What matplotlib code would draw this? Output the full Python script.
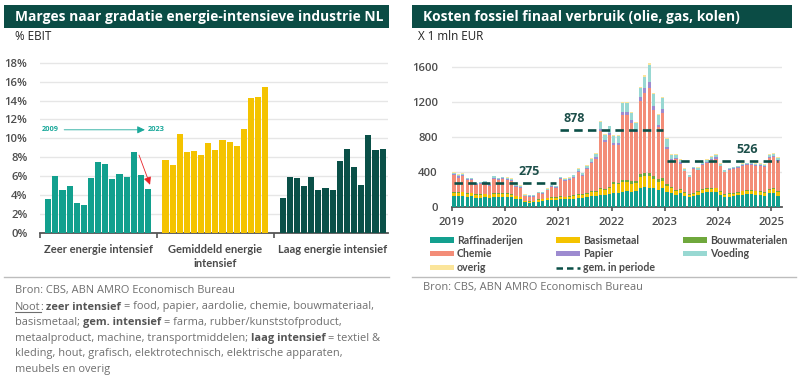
import matplotlib
matplotlib.use("Agg")
import matplotlib.pyplot as plt
from matplotlib.patches import Rectangle
from matplotlib.lines import Line2D

W, H = 801, 376
FONT = "Open Sans"
FONT2 = "Lato"
plt.rcParams['font.family'] = [FONT, 'DejaVu Sans']

# ---------------- data: left chart (% EBIT, 2009-2023) ----------------
years_left = list(range(2009, 2024))
group_labels = ["Zeer energie intensief", "Gemiddeld energie\nintensief", "Laag energie intensief"]
zeer = [3.6, 6.0, 4.5, 5.0, 3.1, 2.9, 5.8, 7.45, 7.3, 5.7, 6.25, 5.85, 8.5, 6.1, 4.6]
gemiddeld = [7.7, 7.2, 10.45, 8.6, 8.7, 8.2, 9.5, 8.8, 9.8, 9.6, 9.2, 11.0, 14.25, 14.35, 15.4]
laag = [3.7, 5.95, 5.8, 4.95, 5.95, 4.5, 4.75, 4.5, 7.55, 8.9, 7.0, 5.1, 10.3, 8.8, 8.9]
left_yticks = [0, 2, 4, 6, 8, 10, 12, 14, 16, 18]

# ---------------- data: right chart (x 1 mln EUR, monthly 2019-01 .. 2025-02) ----------------
raffinaderijen = [125, 125, 130, 120, 125, 110, 110, 115, 105, 120, 115, 120,
                  120, 115, 95, 90, 55, 50, 55, 65, 70, 80, 80, 80,
                  95, 90, 95, 100, 110, 110, 120, 130, 130, 145, 140, 150,
                  165, 160, 175, 180, 175, 185, 220, 230, 225, 215, 200, 215,
                  178, 165, 135, 160, 130, 115, 125, 140, 160, 170, 170, 175,
                  140, 115, 118, 125, 135, 145, 150, 150, 145, 140, 130, 165,
                  165, 130]
basismetaal = [40, 40, 40, 35, 35, 35, 30, 35, 30, 35, 35, 35,
               35, 30, 30, 25, 15, 15, 15, 20, 20, 25, 25, 25,
               25, 25, 25, 30, 30, 35, 35, 40, 45, 60, 55, 65,
               100, 100, 110, 105, 95, 90, 120, 125, 130, 110, 90, 85,
               70, 55, 50, 40, 35, 30, 30, 35, 35, 40, 40, 40,
               35, 30, 30, 30, 30, 35, 35, 35, 35, 35, 35, 35,
               40, 40]
bouwmaterialen = [8, 8, 8, 8, 8, 7, 7, 7, 7, 8, 8, 8,
                  8, 8, 7, 7, 5, 5, 5, 5, 6, 6, 7, 7,
                  7, 7, 8, 8, 8, 8, 9, 10, 12, 15, 15, 18,
                  20, 20, 25, 25, 25, 25, 35, 40, 40, 35, 30, 30,
                  20, 15, 12, 12, 10, 10, 10, 10, 10, 10, 10, 10,
                  10, 10, 10, 10, 10, 10, 10, 10, 10, 10, 10, 10,
                  10, 10]
chemie = [189, 166, 176, 144, 139, 100, 117, 118, 103, 163, 149, 156,
          148, 147, 102, 103, 54, 51, 46, 68, 60, 81, 117, 106,
          194, 180, 185, 201, 259, 205, 274, 327, 368, 647, 532, 592,
          422, 427, 743, 743, 666, 557, 835, 910, 967, 748, 591, 748,
          397, 295, 353, 286, 233, 185, 269, 235, 279, 283, 316, 330,
          280, 241, 265, 269, 271, 280, 283, 283, 280, 285, 284, 350,
          356, 350]
papier = [12, 12, 12, 10, 10, 8, 8, 8, 8, 10, 10, 10,
          10, 10, 8, 8, 5, 5, 5, 6, 6, 7, 8, 8,
          8, 8, 8, 9, 10, 10, 12, 14, 16, 25, 22, 25,
          25, 25, 35, 35, 30, 25, 40, 50, 60, 40, 30, 35,
          20, 15, 12, 12, 10, 8, 8, 10, 10, 12, 12, 12,
          10, 8, 8, 8, 8, 10, 10, 10, 10, 10, 10, 12,
          12, 12]
voeding = [18, 18, 18, 15, 15, 15, 15, 15, 15, 15, 15, 15,
           15, 15, 15, 12, 10, 10, 10, 10, 12, 12, 12, 12,
           15, 15, 15, 15, 20, 20, 25, 30, 35, 80, 60, 70,
           80, 80, 95, 95, 85, 80, 110, 130, 200, 140, 110, 130,
           90, 50, 35, 30, 20, 15, 15, 20, 20, 25, 30, 30,
           20, 15, 15, 15, 15, 15, 15, 15, 15, 15, 15, 25,
           25, 20]
overig = [6, 6, 6, 5, 5, 5, 5, 5, 5, 5, 5, 5,
          5, 5, 5, 5, 4, 4, 4, 4, 4, 5, 5, 5,
          5, 5, 5, 5, 6, 6, 6, 6, 8, 10, 10, 10,
          10, 10, 12, 12, 12, 10, 12, 15, 15, 12, 10, 12,
          10, 8, 6, 6, 5, 5, 5, 5, 5, 6, 6, 6,
          5, 5, 5, 5, 5, 5, 5, 5, 5, 5, 5, 6,
          6, 6]
year_labels = ["2019", "2020", "2021", "2022", "2023", "2024", "2025"]
right_yticks = [0, 400, 800, 1200, 1600]
period_avg = [275, 878, 526]
period_first = ["2019-01", "2021-01", "2023-01"]
period_last = ["2020-12", "2022-12", "2025-02"]

months = [f"{y}-{m:02d}" for y in range(2019, 2026) for m in range(1, 13)][:len(chemie)]

# ---------------- style ----------------
C_TEAL = "#12a08e"
C_YEL = "#f4c300"
C_DARK = "#0a5048"
C_TITLE = "#0b4c45"
C_TICK = "#4d4d4d"
C_GRID = "#e6e6e6"
C_SRC = "#6e6e6e"

series = [
    ("Raffinaderijen", raffinaderijen, "#13a08f"),
    ("Basismetaal", basismetaal, "#f4c300"),
    ("Bouwmaterialen", bouwmaterialen, "#6fa83c"),
    ("Chemie", chemie, "#f38d78"),
    ("Papier", papier, "#9d8bd0"),
    ("Voeding", voeding, "#98d8d2"),
    ("overig", overig, "#fbe59b"),
]

fig = plt.figure(figsize=(W / 100, H / 100), dpi=100)


def fx(x):
    return x / W


def fy(y):
    return 1 - y / H


def px_axes(l, t, r, b):
    return fig.add_axes([fx(l), fy(b), (r - l) / W, (b - t) / H])


# title bars
for (l, r, txt, tx) in [(4, 389, "Marges naar gradatie energie-intensieve industrie NL", 15),
                        (412, 792, "Kosten fossiel finaal verbruik (olie, gas, kolen)", 423)]:
    fig.patches.append(Rectangle((fx(l), fy(28)), (r - l) / W, 23 / H, transform=fig.transFigure,
                                 facecolor=C_TITLE, edgecolor="none"))
    fig.text(fx(tx), fy(16.5), txt, color="white", fontsize=9.9, fontweight="bold", va="center", ha="left")

fig.text(fx(15), fy(37), "% EBIT", fontsize=8.4, color="#222222", va="center")
fig.text(fx(418), fy(37), "X 1 mln EUR", fontsize=8.4, color="#222222", va="center")

# ---------------- left chart ----------------
slot = 7.13
gstep = 16.45
xl0, xl1 = -1.15, 47.63
axL = px_axes(40, 232.7 - 18.6 * 9.44, 40 + (xl1 - xl0) * slot, 232.7)
for g, (vals, col) in enumerate([(zeer, C_TEAL), (gemiddeld, C_YEL), (laag, C_DARK)]):
    xs = [g * gstep + i for i in range(len(vals))]
    axL.bar(xs, vals, width=0.86, color=col, edgecolor="none", zorder=3)
axL.set_xlim(xl0, xl1)
axL.set_ylim(0, 18.6)
axL.set_yticks(left_yticks)
axL.set_yticklabels([f"{v}%" for v in left_yticks])
axL.yaxis.grid(True, color=C_GRID, linewidth=1.0, zorder=0)
axL.set_axisbelow(True)
for s in ["top", "right", "left"]:
    axL.spines[s].set_visible(False)
axL.spines["bottom"].set_color("#555555")
axL.spines["bottom"].set_linewidth(1.3)
n = len(zeer)
bounds = [xl0 + 0.02, (n - 1 + gstep) / 2, gstep + (n - 1 + gstep) / 2]
axL.set_xticks(bounds)
axL.set_xticklabels([])
axL.tick_params(axis="x", length=3.5, width=1.2, color="#555555", direction="out")
axL.tick_params(axis="y", length=0, pad=9, labelsize=8.2, labelcolor=C_TICK)
for lab in axL.get_yticklabels():
    lab.set_fontweight("semibold")
for g, lab in enumerate(group_labels):
    axL.text(g * gstep + (n - 1) / 2, -0.062, lab, transform=axL.get_xaxis_transform(),
             ha="center", va="top", fontsize=8.0, fontweight="bold", color="#4a4a4a",
             linespacing=1.4, family=[FONT2, "DejaVu Sans"])

# 2009 -> 2023 annotation
yy = 10.9
axL.text(-0.85, yy, str(years_left[0]), fontsize=5.3, fontweight="bold", color="#1aa89a", va="center", ha="left")
axL.text(14.0, yy, str(years_left[-1]), fontsize=5.3, fontweight="bold", color="#1aa89a", va="center", ha="left")
axL.annotate("", xy=(13.95, yy), xytext=(1.85, yy),
             arrowprops=dict(arrowstyle="-|>,head_length=0.45,head_width=0.22", color="#1aa89a", lw=0.6))
axL.annotate("", xy=(14.42, zeer[14] + 0.2), xytext=(12.6, zeer[12]),
             arrowprops=dict(arrowstyle="-|>,head_length=0.45,head_width=0.22", color="#e8232a", lw=0.6),
             zorder=5)

# ---------------- right chart ----------------
mw = 4.44
nm = len(chemie)
xr0, xr1 = -0.5, 73.8
axR = px_axes(451.7, 207.3 - 1680 * 0.08788, 451.7 + (xr1 - xr0) * mw, 207.3)
bottom = [0] * nm
xs = list(range(nm))
for name, vals, col in series:
    axR.bar(xs, vals, bottom=bottom, width=0.74, color=col, edgecolor="none", zorder=3)
    bottom = [b + v for b, v in zip(bottom, vals)]
for avg, a, b in zip(period_avg, period_first, period_last):
    i0, i1 = months.index(a), months.index(b)
    axR.plot([i0, i1], [avg, avg], color="#0b4f47", lw=1.9, dashes=(3.2, 2.0), zorder=4)
label_dx = [16.9, 3.0, 18.0]
for avg, a, dx in zip(period_avg, period_first, label_dx):
    axR.text(months.index(a) + dx, avg + 60, str(avg), fontsize=9, fontweight="bold",
             color="#1d4f4a", ha="center", va="bottom")
axR.set_xlim(xr0, xr1)
axR.set_ylim(0, 1680)
axR.set_yticks(right_yticks)
axR.set_yticklabels([str(v) for v in right_yticks])
yticks_x = [months.index(f"{y}-01") - 0.5 for y in year_labels]
axR.set_xticks(yticks_x)
axR.set_xticklabels(year_labels)
axR.yaxis.grid(True, color=C_GRID, linewidth=1.0, zorder=0)
axR.set_axisbelow(True)
for s in ["top", "right", "left"]:
    axR.spines[s].set_visible(False)
axR.spines["bottom"].set_color("#555555")
axR.spines["bottom"].set_linewidth(1.3)
axR.tick_params(axis="x", length=3, width=1.2, color="#555555", pad=4, labelsize=8.2, labelcolor=C_TICK)
axR.tick_params(axis="y", length=0, pad=10, labelsize=8.2, labelcolor=C_TICK)
for lab in axR.get_yticklabels() + axR.get_xticklabels():
    lab.set_fontweight("semibold")

# legend (manual layout in 3 columns)
col_x = [430, 556, 682.7]
row_y = [240, 253.5, 267.5]
leg_items = [(s[0], s[2], "patch") for s in series] + [("gem. in periode", "#0b4f47", "line")]
for k, (name, col, kind) in enumerate(leg_items):
    r, c = divmod(k, 3)
    x, y = col_x[c], row_y[r]
    if kind == "patch":
        fig.patches.append(Rectangle((fx(x), fy(y + 2.6)), 24 / W, 5.2 / H, transform=fig.transFigure,
                                     facecolor=col, edgecolor="none"))
    else:
        fig.lines.append(Line2D([fx(x), fx(x + 24)], [fy(y), fy(y)], transform=fig.transFigure,
                                color=col, lw=1.8, dashes=(2.6, 1.6)))
    fig.text(fx(x + 27), fy(y), name, fontsize=7.6, fontweight="bold", color="#4a4a4a", va="center", ha="left",
             family=[FONT2, "DejaVu Sans"])

# separators
for l, r in [(4, 389), (412, 796)]:
    fig.lines.append(Line2D([fx(l), fx(r)], [fy(277), fy(277)], transform=fig.transFigure,
                            color="#bdbdbd", lw=1.0))

fig.text(fx(423), fy(287.5), "Bron: CBS, ABN AMRO Economisch Bureau", fontsize=7.9, color=C_SRC, va="center")
fig.text(fx(15), fy(290), "Bron: CBS, ABN AMRO Economisch Bureau", fontsize=7.9, color=C_SRC, va="center")

# note with mixed formatting
renderer = fig.canvas.get_renderer()
NS = 7.9
ta = fig.text(0, 0, "a a", fontsize=NS)
tb = fig.text(0, 0, "aa", fontsize=NS)
space_w = ta.get_window_extent(renderer).width - tb.get_window_extent(renderer).width
ta.remove()
tb.remove()

note_lines = [
    [("Noot", "n", True, False), (":", "n", False, False), ("zeer intensief", "b", False, True),
     ("= food, papier, aardolie, chemie, bouwmateriaal,", "n", False, True)],
    [("basismetaal;", "n", False, False), ("gem. intensief", "b", False, True),
     ("= farma, rubber/kunststofproduct,", "n", False, True)],
    [("metaalproduct, machine, transportmiddelen;", "n", False, False), ("laag intensief", "b", False, True),
     ("= textiel &", "n", False, True)],
    [("kleding, hout, grafisch, elektrotechnisch, elektrische apparaten,", "n", False, False)],
    [("meubels en overig", "n", False, False)],
]
y0 = 309.5
for li, segs in enumerate(note_lines):
    x = 15.0
    ybase = y0 + li * 15.6
    for txt, w, ul, sp in segs:
        if sp:
            x += space_w
        t = fig.text(fx(x), fy(ybase), txt, fontsize=NS, fontweight="bold" if w == "b" else "normal",
                     color="#555555" if w == "b" else C_SRC, va="baseline", ha="left")
        bb = t.get_window_extent(renderer)
        if ul:
            fig.lines.append(Line2D([fx(bb.x0), fx(bb.x1)], [fy(ybase + 2), fy(ybase + 2)],
                                    transform=fig.transFigure, color=C_SRC, lw=0.8))
        x = bb.x1

fig.savefig("out.png", dpi=100)
